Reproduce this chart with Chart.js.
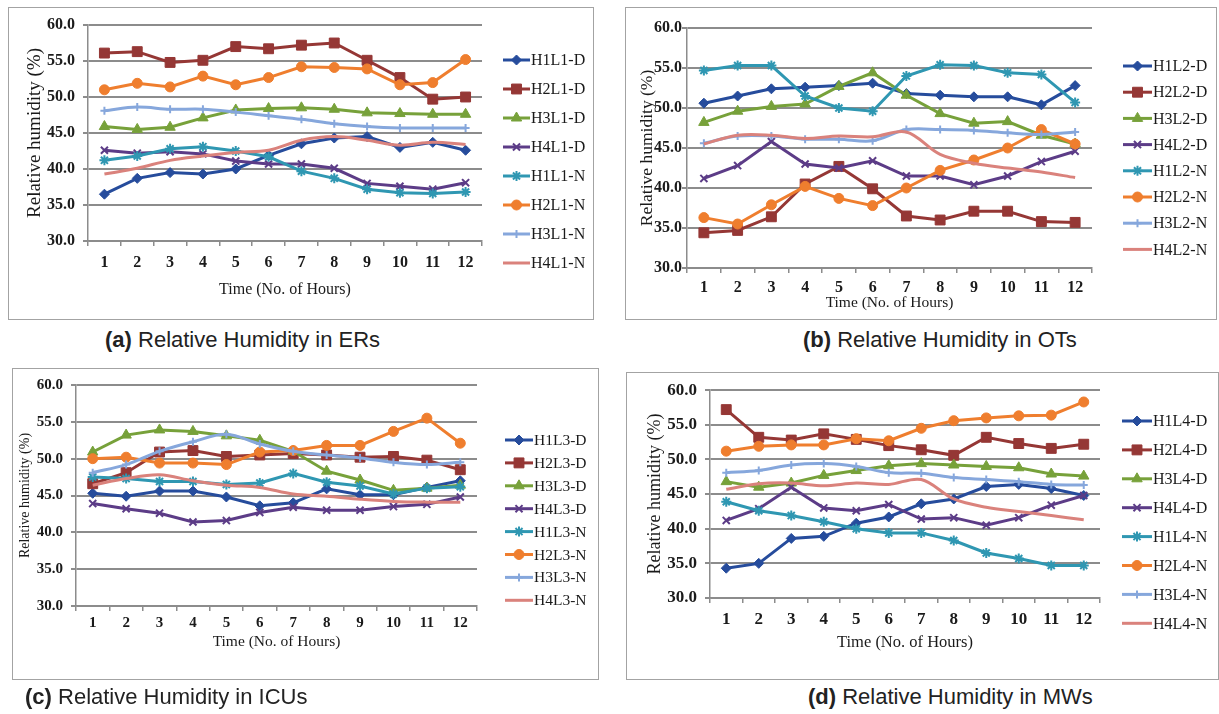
<!DOCTYPE html>
<html>
<head>
<meta charset="utf-8">
<script src="https://cdn.jsdelivr.net/npm/chart.js@4.4.0/dist/chart.umd.min.js"></script>
<style>
body{margin:0;background:#fff;width:1219px;height:714px;overflow:hidden;position:relative;font-family:"Liberation Sans",Arial,sans-serif}
canvas{position:absolute}
.frame{position:absolute;border:1.5px solid #a3a3a3;box-sizing:border-box;pointer-events:none}
.cap{position:absolute;font-size:22px;color:#222;white-space:nowrap;line-height:1}
</style>
</head>
<body>
<canvas id="cA" width="586" height="313" style="left:8px;top:7px"></canvas>
<canvas id="cB" width="592" height="313" style="left:625px;top:7px"></canvas>
<canvas id="cC" width="587" height="312" style="left:12px;top:368px"></canvas>
<canvas id="cD" width="593" height="308" style="left:626px;top:372px"></canvas>
<div class="frame" style="left:8px;top:7px;width:586px;height:313px"></div>
<div class="frame" style="left:625px;top:7px;width:592px;height:313px"></div>
<div class="frame" style="left:12px;top:368px;width:587px;height:312px"></div>
<div class="frame" style="left:626px;top:372px;width:593px;height:308px"></div>
<div class="cap" style="left:105px;top:329px"><b>(a)</b> Relative Humidity in ERs</div>
<div class="cap" style="left:803px;top:329px"><b>(b)</b> Relative Humidity in OTs</div>
<div class="cap" style="left:25px;top:686px"><b>(c)</b> Relative Humidity in ICUs</div>
<div class="cap" style="left:808px;top:686px"><b>(d)</b> Relative Humidity in MWs</div>
<script>
// categories / ticks
const hours = ['1','2','3','4','5','6','7','8','9','10','11','12'];
const yTickValues = [30, 35, 40, 45, 50, 55, 60];

// (a) ERs
const namesER = ['H1L1-D','H2L1-D','H3L1-D','H4L1-D','H1L1-N','H2L1-N','H3L1-N','H4L1-N'];
const erH1D = [36.5, 38.7, 39.5, 39.3, 40.0, 41.9, 43.5, 44.3, 44.5, 43.0, 43.7, 42.6];
const erH2D = [56.1, 56.3, 54.8, 55.1, 57.0, 56.7, 57.2, 57.5, 55.1, 52.7, 49.7, 50.0];
const erH3D = [45.9, 45.5, 45.8, 47.1, 48.2, 48.4, 48.5, 48.3, 47.8, 47.7, 47.6, 47.6];
const erH4D = [42.6, 42.2, 42.4, 42.1, 41.1, 40.7, 40.7, 40.1, 38.0, 37.6, 37.2, 38.1];
const erH1N = [41.2, 41.8, 42.8, 43.1, 42.5, 41.7, 39.7, 38.7, 37.2, 36.7, 36.6, 36.8];
const erH2N = [51.0, 51.9, 51.4, 52.9, 51.7, 52.7, 54.2, 54.1, 53.9, 51.7, 52.0, 55.2];
const erH3N = [48.1, 48.6, 48.3, 48.3, 47.9, 47.4, 46.9, 46.3, 45.9, 45.7, 45.7, 45.7];
const erH4N = [39.3, 40.1, 41.2, 41.8, 42.3, 42.6, 44.0, 44.5, 44.0, 43.3, 43.7, 43.4];

// (b) OTs
const namesOT = ['H1L2-D','H2L2-D','H3L2-D','H4L2-D','H1L2-N','H2L2-N','H3L2-N','H4L2-N'];
const otH1D = [50.6, 51.5, 52.4, 52.6, 52.8, 53.1, 51.8, 51.6, 51.4, 51.4, 50.4, 52.8];
const otH2D = [34.4, 34.7, 36.4, 40.5, 42.7, 39.9, 36.5, 36.0, 37.1, 37.1, 35.8, 35.7];
const otH3D = [48.2, 49.6, 50.2, 50.5, 52.7, 54.4, 51.6, 49.3, 48.1, 48.3, 46.6, 45.5];
const otH4D = [41.2, 42.8, 45.8, 43.0, 42.5, 43.4, 41.5, 41.5, 40.4, 41.5, 43.3, 44.6];
const otH1N = [54.7, 55.3, 55.3, 51.5, 50.0, 49.6, 54.0, 55.4, 55.3, 54.4, 54.2, 50.7];
const otH2N = [36.3, 35.5, 37.9, 40.2, 38.7, 37.8, 40.0, 42.2, 43.5, 45.0, 47.3, 45.5];
const otH3N = [45.6, 46.5, 46.5, 46.1, 46.1, 45.9, 47.3, 47.3, 47.2, 46.9, 46.7, 47.0];
const otH4N = [45.5, 46.6, 46.6, 46.2, 46.5, 46.4, 47.0, 44.2, 43.1, 42.5, 42.0, 41.3];

// (c) ICUs
const namesICU = ['H1L3-D','H2L3-D','H3L3-D','H4L3-D','H1L3-N','H2L3-N','H3L3-N','H4L3-N'];
const icuH1D = [45.3, 44.9, 45.6, 45.6, 44.8, 43.6, 44.0, 45.9, 45.1, 45.1, 46.1, 47.0];
const icuH2D = [46.6, 48.1, 50.9, 51.1, 50.3, 50.5, 50.7, 50.5, 50.2, 50.3, 49.8, 48.5];
const icuH3D = [50.9, 53.2, 53.9, 53.7, 53.1, 52.5, 51.0, 48.3, 47.1, 45.7, 46.0, 46.4];
const icuH4D = [43.9, 43.2, 42.6, 41.4, 41.6, 42.7, 43.4, 43.0, 43.0, 43.5, 43.8, 44.8];
const icuH1N = [47.5, 47.3, 46.9, 46.9, 46.5, 46.7, 48.0, 46.8, 46.3, 45.2, 46.0, 46.2];
const icuH2N = [50.0, 50.2, 49.4, 49.4, 49.2, 50.9, 51.1, 51.8, 51.8, 53.7, 55.5, 52.1];
const icuH3N = [48.1, 49.2, 51.0, 52.3, 53.3, 52.0, 51.0, 50.5, 50.1, 49.5, 49.2, 49.5];
const icuH4N = [46.4, 47.3, 47.8, 47.0, 46.4, 46.1, 45.2, 44.9, 44.5, 44.2, 44.1, 44.1];

// (d) MWs
const namesMW = ['H1L4-D','H2L4-D','H3L4-D','H4L4-D','H1L4-N','H2L4-N','H3L4-N','H4L4-N'];
const mwH1D = [34.3, 35.0, 38.6, 38.9, 40.8, 41.7, 43.6, 44.3, 46.1, 46.4, 45.8, 44.8];
const mwH2D = [57.2, 53.2, 52.8, 53.7, 52.9, 52.0, 51.4, 50.6, 53.2, 52.3, 51.6, 52.2];
const mwH3D = [46.8, 46.0, 46.6, 47.7, 48.4, 49.1, 49.4, 49.2, 49.0, 48.8, 47.9, 47.6];
const mwH4D = [41.2, 42.9, 46.0, 43.0, 42.6, 43.5, 41.4, 41.6, 40.5, 41.6, 43.4, 44.8];
const mwH1N = [43.9, 42.6, 41.9, 41.0, 40.0, 39.4, 39.4, 38.3, 36.5, 35.7, 34.7, 34.7];
const mwH2N = [51.2, 51.9, 52.1, 52.1, 53.0, 52.7, 54.5, 55.6, 56.0, 56.3, 56.4, 58.3];
const mwH3N = [48.1, 48.4, 49.2, 49.4, 49.0, 48.1, 48.0, 47.4, 47.1, 46.8, 46.4, 46.3];
const mwH4N = [45.7, 46.5, 46.6, 46.2, 46.6, 46.4, 47.1, 44.3, 43.1, 42.5, 41.9, 41.3];

// series look, same order in every panel
const looks = [
  {c:'#264c9c', p:'rectRot', r:5, bw:1},
  {c:'#953735', p:'rect', r:7, bw:1},
  {c:'#77a13a', p:'triangle', r:6, bw:1},
  {c:'#5c3c87', p:'crossRot', r:5, bw:2},
  {c:'#2f97b2', p:'star', r:5, bw:2},
  {c:'#ef7e2e', p:'circle', r:5, bw:1},
  {c:'#86a7dc', p:'cross', r:4, bw:2},
  {c:'#da827c', p:false, r:0, bw:0}
];

const serif = "'Liberation Serif','Times New Roman',serif";

// frame / plot boxes in page pixels
const panels = [
  {id:'cA', frame:[8,7,586,313], plot:[88,25,482,241], tick:16, yt:19, xt:16, yTitleX:35, yTickRight:75, xTickY:263, xTitleY:290,
   leg:[503,530,60,29,16], names:namesER, series:[erH1D,erH2D,erH3D,erH4D,erH1N,erH2N,erH3N,erH4N]},
  {id:'cB', frame:[625,7,592,313], plot:[687,28,1092,268], tick:16, yt:17.5, xt:15.5, yTitleX:647, yTickRight:682, xTickY:288, xTitleY:303,
   leg:[1123,1152,66,26.2,16], names:namesOT, series:[otH1D,otH2D,otH3D,otH4D,otH1N,otH2N,otH3N,otH4N]},
  {id:'cC', frame:[12,368,587,312], plot:[76,377,477,606], tick:15, yt:14, xt:15.5, yTitleX:25, yTickRight:63, xTickY:623, xTitleY:642,
   leg:[505,533,440,22.9,15.5], names:namesICU, series:[icuH1D,icuH2D,icuH3D,icuH4D,icuH1N,icuH2N,icuH3N,icuH4N]},
  {id:'cD', frame:[626,372,593,308], plot:[710,390,1100,598], tick:17, yt:18, xt:16.5, yTitleX:655, yTickRight:697, xTickY:620, xTitleY:643,
   leg:[1122,1152,421,28.9,16], names:namesMW, series:[mwH1D,mwH2D,mwH3D,mwH4D,mwH1N,mwH2N,mwH3N,mwH4N]}
];

const sideLegend = {
  id: 'sideLegend',
  afterDraw(chart, args, o) {
    const ctx = chart.ctx;
    chart.data.datasets.forEach(function (ds, i) {
      const y = o.y0 + i * o.dy;
      ctx.save();
      ctx.strokeStyle = ds.borderColor;
      ctx.fillStyle = ds.backgroundColor;
      ctx.lineWidth = ds.borderWidth;
      ctx.beginPath();
      ctx.moveTo(o.x0, y);
      ctx.lineTo(o.x1, y);
      ctx.stroke();
      if (ds.pointStyle) {
        ctx.lineWidth = ds.pointBorderWidth;
        Chart.helpers.drawPoint(ctx, {pointStyle: ds.pointStyle, radius: ds.pointRadius, borderWidth: ds.pointBorderWidth, rotation: 0}, (o.x0 + o.x1) / 2, y);
      }
      ctx.fillStyle = '#1a1a1a';
      ctx.font = o.size + 'px ' + serif;
      ctx.textBaseline = 'middle';
      ctx.textAlign = 'left';
      ctx.fillText(ds.label, o.x1 + 1, y + 1);
      ctx.restore();
    });
  }
};

panels.forEach(function (P) {
  const fx = P.frame[0], fy = P.frame[1], fw = P.frame[2], fh = P.frame[3];
  const pl = P.plot[0], pt = P.plot[1], pr = P.plot[2], pb = P.plot[3];
  const tl = 5;
  const padL = Math.max(0, P.yTitleX - fx - P.yt * 0.6);

  const datasets = P.series.map(function (vals, i) {
    const L = looks[i];
    return {
      label: P.names[i],
      data: vals,
      borderColor: L.c,
      backgroundColor: L.c,
      borderWidth: 3,
      pointStyle: L.p,
      pointRadius: L.r,
      pointBorderWidth: L.bw,
      pointHoverRadius: L.r,
      tension: i >= 6 ? 0.35 : 0,
      order: 8 - i
    };
  });

  new Chart(document.getElementById(P.id), {
    type: 'line',
    data: {labels: hours, datasets: datasets},
    options: {
      responsive: false,
      animation: false,
      events: [],
      layout: {padding: {left: padL, top: pt - fy, right: fx + fw - pr, bottom: 0}},
      plugins: {
        legend: {display: false},
        tooltip: {enabled: false},
        sideLegend: {x0: P.leg[0] - fx, x1: P.leg[1] - fx, y0: P.leg[2] - fy, dy: P.leg[3], size: P.leg[4]}
      },
      scales: {
        x: {
          offset: true,
          grid: {display: true, drawOnChartArea: false, drawTicks: true, tickLength: tl, offset: true, color: '#8c8c8c', lineWidth: 1.5},
          border: {display: true, color: '#8c8c8c', width: 1.5},
          ticks: {color: '#1a1a1a', font: {family: serif, size: P.tick, weight: 'bold'}, padding: P.xTickY - pb - tl - P.tick * 0.6, maxRotation: 0, autoSkip: false},
          title: {display: true, text: 'Time (No. of Hours)', color: '#1a1a1a', font: {family: serif, size: P.xt},
                  padding: {top: 0, bottom: fy + fh - P.xTitleY - P.xt * 0.6}},
          afterFit: function (s) { s.height = fy + fh - pb; }
        },
        y: {
          min: 30, max: 60,
          afterBuildTicks: function (s) { s.ticks = yTickValues.map(function (v) { return {value: v}; }); },
          grid: {color: '#8c8c8c', lineWidth: 2, tickLength: tl},
          border: {display: true, color: '#8c8c8c', width: 1.5},
          ticks: {color: '#1a1a1a', font: {family: serif, size: P.tick, weight: 'bold'}, padding: Math.max(0, pl - tl - P.yTickRight),
                  callback: function (v) { return Number(v).toFixed(1); }},
          title: {display: true, text: 'Relative humidity (%)', color: '#1a1a1a', font: {family: serif, size: P.yt}, padding: {top: 0, bottom: 0}},
          afterFit: function (s) { s.width = pl - fx - padL; }
        }
      }
    },
    plugins: [sideLegend]
  });
});
</script>
</body>
</html>
